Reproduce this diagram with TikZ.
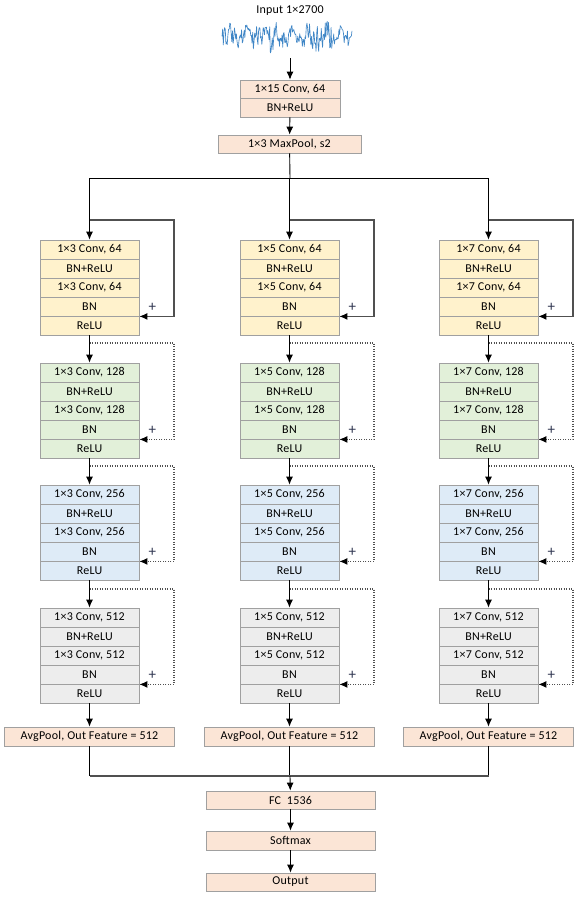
\documentclass[tikz,border=0pt]{standalone}
\usepackage{fontspec}
\setmainfont{Carlito}[LetterSpace=2]
\usetikzlibrary{arrows.meta}

\definecolor{peach}{HTML}{FBE5D6}
\definecolor{ylw}{HTML}{FFF2CC}
\definecolor{grn}{HTML}{E2F0D9}
\definecolor{blu}{HTML}{DEEBF7}
\definecolor{gry}{HTML}{EDEDED}
\definecolor{edge}{HTML}{A0A0A0}
\definecolor{wire}{HTML}{505050}
\definecolor{wave}{HTML}{3F86C6}
\definecolor{plusc}{HTML}{2F3550}

\tikzset{
  cell/.style={draw=edge, line width=0.8pt, minimum width=99pt, minimum height=19pt,
               inner sep=0pt, font=\fontsize{12}{13}\selectfont},
  wide/.style={cell, minimum width=170pt},
  tip/.style={-{Latex[length=8pt,width=7pt,color=black]}},
  flow/.style={draw=black, line width=0.9pt, tip},
  bus/.style={draw=wire, line width=1.1pt},
  skipsolid/.style={draw=wire, line width=1.1pt, tip},
  skipdot/.style={draw=wire, line width=1.1pt, dash pattern=on 1.4pt off 1.1pt, tip},
  plus/.style={text=plusc, inner sep=0pt, font=\fontsize{15}{15}\selectfont},
}

% one residual block: name, centre x, top y, fill, kernel, channels
\newcommand\resblk[6]{%
  \node[cell,fill=#4] (#1a) at (#2,#3+9.5)  {1×#5 Conv, #6};
  \node[cell,fill=#4] (#1b) at (#2,#3+28.5) {BN+ReLU};
  \node[cell,fill=#4] (#1c) at (#2,#3+47.5) {1×#5 Conv, #6};
  \node[cell,fill=#4] (#1d) at (#2,#3+66.5) {BN};
  \node[cell,fill=#4] (#1e) at (#2,#3+85.5) {ReLU};
}

\begin{document}
\begin{tikzpicture}[x=1pt,y=-1pt]
\useasboundingbox (0,0) rectangle (579,900);

% input signal
\node[inner sep=0pt, font=\fontsize{12}{12}\selectfont] (inp) at (290,11) {Input 1×2700};
\pgfmathsetseed{2700}
\draw[wave, line width=0.65pt, line join=round]
  plot[domain=222:352, samples=200] (\x, {36 + (12+4*sin(7*\x))*rand + 3*sin(23*\x)});
\coordinate (wavebot) at (290,58);

% stem
\node[cell, fill=peach, minimum width=100pt, minimum height=18.5pt] (stem) at (290,89.25) {1×15 Conv, 64};
\node[cell, fill=peach, minimum width=100pt, minimum height=18.5pt] (stembn) at (290,107.75) {BN+ReLU};
\node[cell, fill=peach, minimum width=143pt, minimum height=18pt] (maxpool) at (289.5,144) {1×3 MaxPool, s2};
\draw[flow] (wavebot) -- (stem);
\draw[flow] (stembn) -- (maxpool);

\coordinate (split) at (290,178);
\coordinate (splitL) at (89.5,178);
\coordinate (splitR) at (488.5,178);
\draw[bus, draw=black, line width=0.9pt] (maxpool) -- (split);
\draw[bus, draw=black, line width=0.9pt] (splitL) -- (splitR);

\coordinate (merge) at (290,776);
\coordinate (mergeL) at (89.5,776);
\coordinate (mergeR) at (488.5,776);

% three branches
\foreach \n/\cx/\k in {1/89.5/3, 2/289.5/5, 3/488.5/7}{
  \resblk{c\n b1}{\cx}{240}{ylw}{\k}{64}
  \resblk{c\n b2}{\cx}{363}{grn}{\k}{128}
  \resblk{c\n b3}{\cx}{485}{blu}{\k}{256}
  \resblk{c\n b4}{\cx}{608}{gry}{\k}{512}
  \node[wide, fill=peach] (c\n pool) at (\cx,736.5) {AvgPool, Out Feature = 512};

  \coordinate (c\n top) at (\cx,178);
  \coordinate (c\n s1) at (\cx,220);
  \coordinate (c\n s2) at (\cx,343);
  \coordinate (c\n s3) at (\cx,466);
  \coordinate (c\n s4) at (\cx,589);
  \coordinate (c\n end) at (\cx,776);

  \draw[flow] (c\n top) -- (c\n b1a);
  \draw[flow] (c\n b1e) -- (c\n b2a);
  \draw[flow] (c\n b2e) -- (c\n b3a);
  \draw[flow] (c\n b3e) -- (c\n b4a);
  \draw[flow] (c\n b4e) -- (c\n pool);
  \draw[bus, draw=black, line width=0.9pt] (c\n pool) -- (c\n end);

  \draw[skipsolid] (c\n s1) -- ++(84.5,0) |- (c\n b1d.south east);
  \draw[skipdot] (c\n s2) -- ++(84.5,0) |- (c\n b2d.south east);
  \draw[skipdot] (c\n s3) -- ++(84.5,0) |- (c\n b3d.south east);
  \draw[skipdot] (c\n s4) -- ++(84.5,0) |- (c\n b4d.south east);

  \foreach \b in {1,2,3,4}{
    \node[plus] at ([xshift=13pt,yshift=9.5pt]c\n b\b d.south east) {+};
  }
}

\draw[bus] (mergeL) -- (mergeR);

% head
\node[cell, fill=peach, minimum width=169pt, minimum height=18pt] (fc) at (290.5,800) {FC\ \ 1536};
\node[cell, fill=peach, minimum width=169pt, minimum height=19pt] (softmax) at (290.5,840.5) {Softmax};
\node[cell, fill=peach, minimum width=169pt, minimum height=18pt] (out) at (290.5,882) {Output};
\draw[flow] (merge) -- (fc);
\draw[flow] (fc) -- (softmax);
\draw[flow] (softmax) -- (out);
\end{tikzpicture}
\end{document}
